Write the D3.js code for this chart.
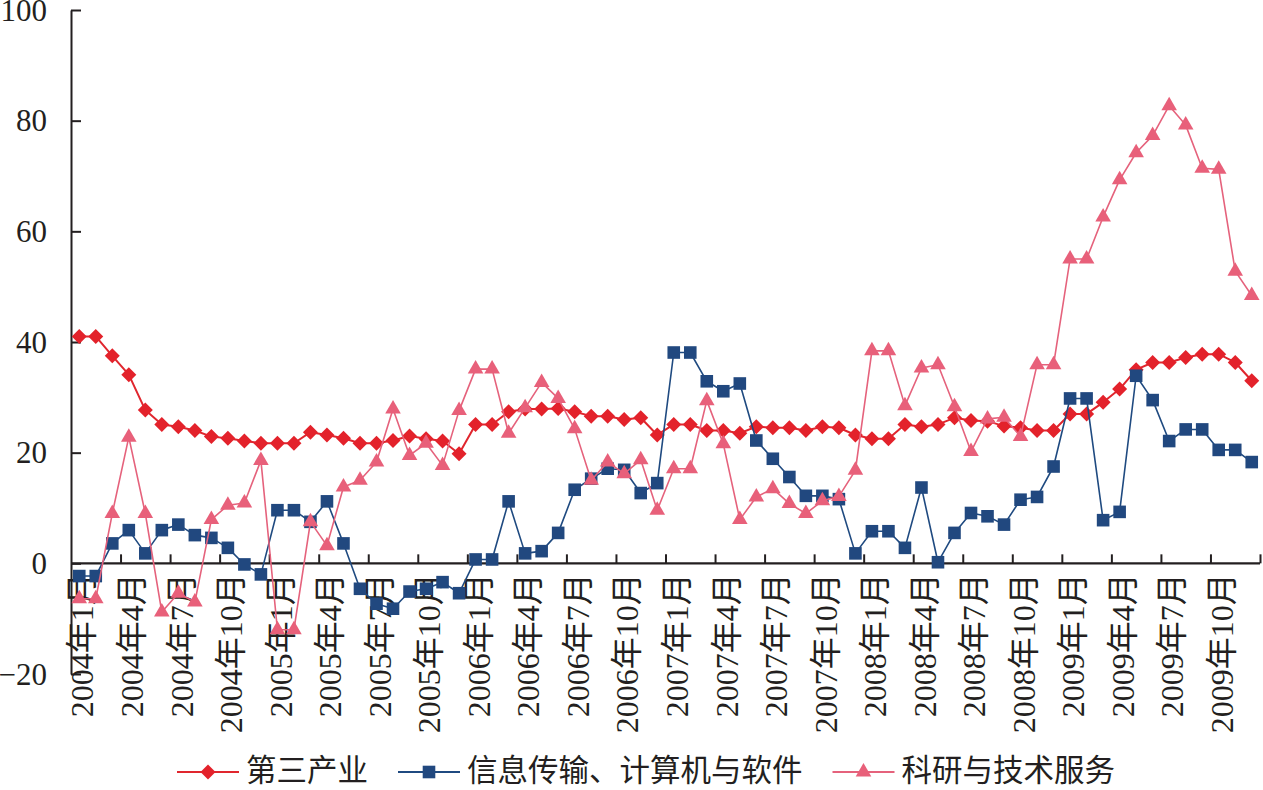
<!DOCTYPE html>
<html>
<head>
<meta charset="utf-8">
<script src="https://cdn.jsdelivr.net/npm/d3@7"></script>
<style>
  html, body { margin: 0; padding: 0; background: #ffffff; }
  svg { display: block; }
  text { fill: #231F20; }
</style>
</head>
<body>
<svg id="chart" width="1263" height="790"></svg>
<script>
// ---------------- data ----------------
const categories = [
  "2004年1月","2004年2月","2004年3月","2004年4月","2004年5月","2004年6月","2004年7月","2004年8月","2004年9月","2004年10月","2004年11月","2004年12月",
  "2005年1月","2005年2月","2005年3月","2005年4月","2005年5月","2005年6月","2005年7月","2005年8月","2005年9月","2005年10月","2005年11月","2005年12月",
  "2006年1月","2006年2月","2006年3月","2006年4月","2006年5月","2006年6月","2006年7月","2006年8月","2006年9月","2006年10月","2006年11月","2006年12月",
  "2007年1月","2007年2月","2007年3月","2007年4月","2007年5月","2007年6月","2007年7月","2007年8月","2007年9月","2007年10月","2007年11月","2007年12月",
  "2008年1月","2008年2月","2008年3月","2008年4月","2008年5月","2008年6月","2008年7月","2008年8月","2008年9月","2008年10月","2008年11月","2008年12月",
  "2009年1月","2009年2月","2009年3月","2009年4月","2009年5月","2009年6月","2009年7月","2009年8月","2009年9月","2009年10月","2009年11月","2009年12月"
];
const tertiary = [41.0,41.0,37.5,34.1,27.7,25.1,24.7,24.0,22.9,22.6,
  22.1,21.7,21.7,21.7,23.7,23.2,22.6,21.7,21.7,22.2,
  23.0,22.5,22.1,19.8,25.1,25.1,27.4,27.9,27.9,28.0,
  27.4,26.6,26.6,26.0,26.3,23.2,25.1,25.1,24.0,24.0,
  23.5,24.7,24.5,24.5,24.0,24.7,24.5,23.2,22.5,22.5,
  25.1,24.7,25.1,26.3,25.8,25.7,24.8,24.5,24.0,24.0,
  27.0,27.0,29.1,31.5,35.0,36.3,36.3,37.2,37.8,37.8,36.3,33.0];
const infoSoftware = [-2.3,-2.3,3.6,6.0,1.8,6.0,7.0,5.1,4.6,2.8,
  -0.2,-2.0,9.6,9.6,7.5,11.2,3.6,-4.6,-7.3,-8.2,
  -5.1,-4.6,-3.4,-5.4,0.7,0.7,11.2,1.8,2.2,5.5,
  13.3,15.3,17.1,16.9,12.7,14.5,38.1,38.1,32.9,31.1,
  32.5,22.2,18.9,15.6,12.2,12.2,11.6,1.8,5.8,5.8,
  2.8,13.7,0.2,5.5,9.1,8.5,7.0,11.5,12.0,17.5,
  29.8,29.8,7.8,9.3,33.9,29.5,22.1,24.2,24.2,20.5,20.5,18.3];
const research = [-6.4,-6.4,9.0,22.8,9.0,-8.8,-5.4,-7.0,7.9,10.5,
  10.9,18.6,-12.0,-12.0,7.5,3.2,13.8,15.0,18.3,27.9,
  19.5,21.7,17.7,27.6,35.1,35.1,23.5,28.1,32.7,29.8,
  24.3,15.0,18.3,16.2,18.7,9.6,17.1,17.1,29.4,21.6,
  7.9,12.0,13.5,10.8,9.0,11.3,12.1,16.8,38.4,38.4,
  28.5,35.3,35.9,28.3,20.2,26.1,26.4,22.9,35.9,35.9,
  55.0,55.0,62.6,69.3,74.2,77.3,82.7,79.2,71.4,71.2,52.8,48.4];
const seriesNames = ["第三产业", "信息传输、计算机与软件", "科研与技术服务"];
const yTicks = [-20, 0, 20, 40, 60, 80, 100];
const yTickLabels = ["−20", "0", "20", "40", "60", "80", "100"];

// ---------------- styles ----------------
const numFont = "'Liberation Serif', 'Times New Roman', 'Noto Sans CJK SC', serif";
const cjkFont = "'Noto Sans CJK SC', 'Liberation Serif', sans-serif";
const axisColor = "#231F20";
const styles = [
  { values: tertiary,     line: "#E0262E", fill: "#E3222B", marker: "diamond",  lw: 2 },
  { values: infoSoftware, line: "#1F4A80", fill: "#21487F", marker: "square",   lw: 1.6 },
  { values: research,     line: "#E5627C", fill: "#E8607A", marker: "triangle", lw: 1.6 }
];

function markerPath(type) {
  if (type === "diamond") { const r = 7.5; return `M0,${-r}L${r},0L0,${r}L${-r},0Z`; }
  if (type === "square")  { const r = 6.3; return `M${-r},${-r}H${r}V${r}H${-r}Z`; }
  const w = 7.8, h = 13.5; // triangle centered at centroid
  return `M0,${-h*2/3}L${w},${h/3}L${-w},${h/3}Z`;
}

// ---------------- scales ----------------
const svg = d3.select("#chart");
const x = d3.scaleBand().domain(categories).range([71, 1260]).padding(0);
const xb = d3.scaleLinear().domain([0, categories.length]).range([71, 1260]);
const y = d3.scaleLinear().domain([-20, 100]).range([674, 10]);
const cx = d => x(d) + x.bandwidth() / 2;

// ---------------- y axis ----------------
const yAxis = svg.append("g")
  .attr("transform", "translate(71,0)")
  .call(d3.axisLeft(y).tickValues(yTicks)
        .tickFormat((d, i) => yTickLabels[i])
        .tickSizeInner(-10).tickSizeOuter(0).tickPadding(24));
yAxis.select(".domain").attr("stroke", axisColor).attr("stroke-width", 2);
yAxis.selectAll(".tick line").attr("stroke", axisColor).attr("stroke-width", 2);
yAxis.selectAll(".tick text")
  .attr("font-family", numFont).attr("font-size", 31).attr("fill", axisColor)
  .attr("dy", "0.33em");

// ---------------- x axis ----------------
const x0 = y(0);
const xTickIdx = d3.range(3, categories.length + 1, 3);
const xTicksG = svg.append("g")
  .attr("transform", `translate(0,${x0})`)
  .call(d3.axisTop(xb).tickValues(xTickIdx).tickFormat("").tickSizeInner(9).tickSizeOuter(0));
xTicksG.select(".domain").remove();
xTicksG.selectAll(".tick line").attr("stroke", axisColor).attr("stroke-width", 2);

const xLabels = categories.filter((d, i) => i % 3 === 0);
const xAxis = svg.append("g")
  .attr("transform", `translate(0,${x0})`)
  .call(d3.axisBottom(x).tickValues(xLabels).tickSizeInner(0).tickSizeOuter(0));
xAxis.select(".domain").attr("stroke", axisColor).attr("stroke-width", 2.2)
  .attr("d", `M71,0H1260`);
xAxis.selectAll(".tick text")
  .attr("font-family", numFont).attr("font-size", 32).attr("fill", axisColor)
  .attr("text-anchor", "end")
  .attr("transform", "rotate(-90)")
  .attr("x", -10).attr("y", 3).attr("dy", "0.35em");

// ---------------- series ----------------
const lineGen = d3.line().x((d, i) => cx(categories[i])).y(d => y(d));
styles.forEach(s => {
  const g = svg.append("g");
  g.append("path").datum(s.values)
    .attr("d", lineGen).attr("fill", "none")
    .attr("stroke", s.line).attr("stroke-width", s.lw).attr("stroke-linejoin", "round");
  g.selectAll("path.m").data(s.values).enter().append("path")
    .attr("class", "m")
    .attr("d", markerPath(s.marker))
    .attr("transform", (d, i) => `translate(${cx(categories[i])},${y(d)})`)
    .attr("fill", s.fill).attr("stroke", "none");
});

// ---------------- legend ----------------
const legend = svg.append("g").attr("transform", "translate(177,772)");
let lx = 0;
styles.forEach((s, i) => {
  const item = legend.append("g").attr("transform", `translate(${lx},0)`);
  item.append("line").attr("x1", 0).attr("x2", 62).attr("y1", 0).attr("y2", 0)
    .attr("stroke", s.line).attr("stroke-width", 2);
  item.append("path").attr("d", markerPath(s.marker))
    .attr("transform", "translate(31,0)").attr("fill", s.fill);
  const t = item.append("text").attr("x", 69).attr("y", 0).attr("dy", "0.3em")
    .attr("font-family", cjkFont).attr("font-size", 30.5).attr("fill", axisColor)
    .text(seriesNames[i]);
  lx += 69 + t.node().getComputedTextLength() + 30;
});
</script>
</body>
</html>
